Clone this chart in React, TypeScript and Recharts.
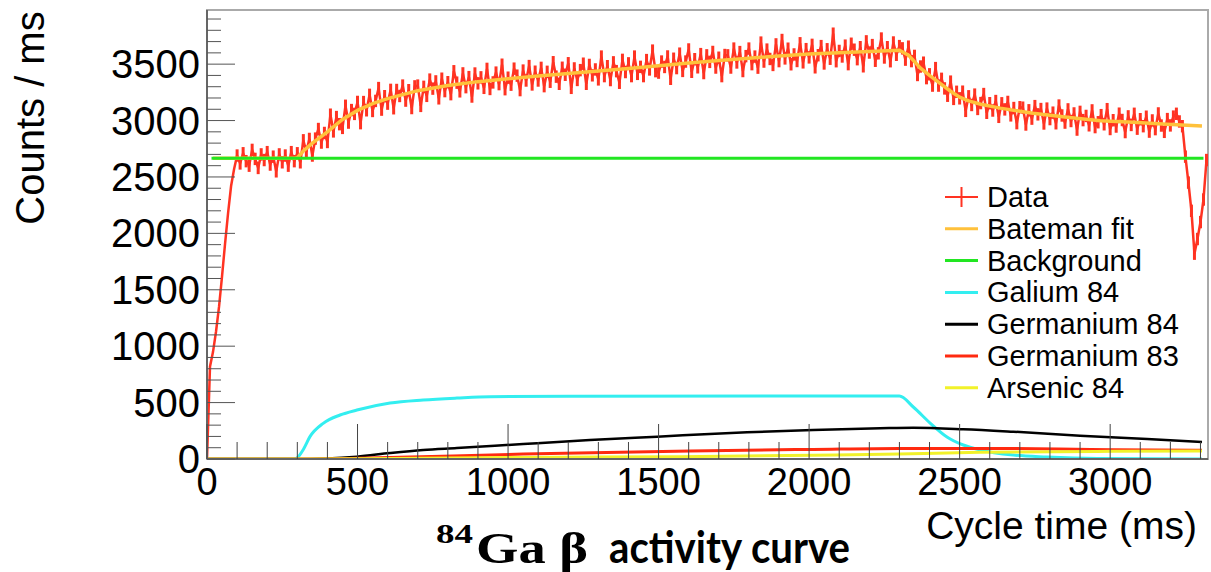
import React from 'react';
import { LineChart, Line, XAxis, YAxis, ReferenceArea, ErrorBar } from 'recharts';

// Data histogram, 10 ms bins starting at 0 ms
const BIN_MS = 10;
const DATA_ERR = 55; // half-length of the error bars
const countsBeforeBeam = [
  0, 820, 950, 1130, 1350, 1620, 1910, 2180, 2420, 2570,
  2690, 2620, 2710, 2640, 2600, 2740, 2660, 2580, 2700, 2650,
  2720, 2610, 2680, 2550, 2700, 2630, 2690, 2600, 2720, 2640,
];
const countsBeamOn = [
  2710, 2630, 2825, 2723, 2837, 2690, 2840, 2925, 2805, 2890,
  2810, 3052, 2904, 3031, 2968, 2935, 3131, 2982, 3093, 3059,
  3165, 2977, 3164, 3091, 3228, 3085, 3174, 3288, 3097, 3216,
  3150, 3272, 3109, 3271, 3218, 3310, 3177, 3269, 3111, 3303,
  3310, 3130, 3299, 3219, 3363, 3283, 3347, 3197, 3371, 3261,
  3340, 3234, 3437, 3336, 3259, 3418, 3296, 3385, 3213, 3417,
  3330, 3383, 3290, 3458, 3280, 3338, 3425, 3323, 3495, 3278,
  3380, 3318, 3460, 3398, 3270, 3443, 3355, 3483, 3320, 3433,
  3355, 3467, 3305, 3432, 3344, 3517, 3389, 3326, 3468, 3406,
  3508, 3290, 3462, 3360, 3447, 3504, 3326, 3493, 3401, 3453,
  3365, 3567, 3394, 3482, 3359, 3516, 3438, 3335, 3538, 3430,
  3507, 3394, 3567, 3414, 3476, 3394, 3536, 3453, 3620, 3438,
  3425, 3523, 3475, 3568, 3370, 3548, 3465, 3593, 3440, 3523,
  3630, 3432, 3544, 3472, 3589, 3421, 3578, 3520, 3608, 3470,
  3557, 3394, 3581, 3578, 3470, 3638, 3515, 3607, 3439, 3571,
  3638, 3500, 3567, 3469, 3691, 3523, 3629, 3546, 3493, 3675,
  3527, 3714, 3551, 3637, 3499, 3586, 3528, 3685, 3516, 3633,
  3560, 3671, 3472, 3579, 3660, 3506, 3632, 3548, 3770, 3526,
  3617, 3568, 3664, 3500, 3681, 3628, 3544, 3650, 3481, 3702,
  3603, 3669, 3530, 3596, 3727, 3559, 3650, 3526, 3692, 3583,
];
const countsAfterBeam = [
  3660, 3640, 3540, 3655, 3527, 3573, 3404, 3479, 3513, 3376,
  3410, 3310, 3465, 3310, 3370, 3285, 3220, 3345, 3192, 3255,
  3197, 3256, 3086, 3215, 3138, 3230, 3103, 3155, 3235, 3069,
  3154, 3089, 3173, 3033, 3153, 3099, 3165, 3046, 3111, 2977,
  3118, 3114, 2965, 3091, 3017, 3128, 3055, 3102, 2974, 3106,
  3013, 3070, 2976, 3133, 3045, 2982, 3099, 2996, 3063, 2920,
  3077, 3004, 3041, 2958, 3090, 2942, 2985, 3048, 2967, 3101,
  2925, 3003, 2947, 3061, 3005, 2898, 3037, 2961, 3060, 2928,
  3012, 2950, 3034, 2902, 3001, 2924, 3063, 2956, 2900, 3013,
  2957, 3035, 3060, 2992, 2950, 2680, 2450, 2200, 1820, 1950,
  2100, 2300, 2650,
];

// Bateman fit
const fitMs = [20, 290, 300, 320, 350, 400, 450, 500, 550, 600, 700, 800, 900, 1000, 1100, 1200, 1300, 1400, 1500, 1600, 1700, 1800, 1900, 2000, 2100, 2200, 2300, 2330, 2370, 2400, 2435, 2470, 2500, 2530, 2570, 2635, 2700, 2744, 2857, 2967, 3076, 3189, 3305];
const fitCounts = [2665, 2665, 2670, 2730, 2800, 2900, 3010, 3090, 3150, 3195, 3265, 3310, 3345, 3370, 3395, 3418, 3440, 3462, 3485, 3510, 3532, 3553, 3572, 3590, 3602, 3613, 3624, 3580, 3464, 3400, 3330, 3260, 3207, 3175, 3145, 3110, 3083, 3065, 3030, 2998, 2985, 2968, 2952];

const bgMs = [15, 3310];
const bgCounts = [2665, 2665];

const gaMs = [0, 290, 300, 320, 342, 386, 442, 498, 608, 718, 830, 940, 1200, 2300, 2346, 2402, 2458, 2512, 2568, 2678, 2790, 2957, 3305];
const gaCounts = [0, 0, 12, 85, 198, 316, 390, 434, 496, 523, 540, 552, 556, 558, 461, 319, 195, 124, 80, 35, 18, 5, 1];

const ge84Ms = [0, 290, 400, 498, 608, 718, 830, 1050, 1272, 1495, 1794, 2013, 2236, 2346, 2512, 2678, 2900, 3123, 3305];
const ge84Counts = [0, 0, 5, 21, 53, 80, 97, 133, 168, 198, 237, 257, 272, 277, 264, 242, 207, 177, 150];

const ge83Ms = [0, 290, 500, 1050, 1605, 2013, 2300, 2568, 3011, 3305];
const ge83Counts = [0, 0, 7, 44, 71, 85, 94, 94, 82, 78];

const as84Ms = [0, 290, 500, 1050, 1571, 2013, 2300, 2568, 3011, 3305];
const as84Counts = [0, 0, 2, 14, 21, 33, 44, 59, 68, 71];

const xTicks = Array.from({ length: 34 }, (_, i) => i * 100);
const yTicks = Array.from({ length: 40 }, (_, i) => i * 100);

const LEGEND = [
  { name: 'Data', color: '#ff3322', cross: true },
  { name: 'Bateman fit', color: '#ffc13b' },
  { name: 'Background', color: '#22e622' },
  { name: 'Galium 84', color: '#33eef0' },
  { name: 'Germanium 84', color: '#000000' },
  { name: 'Germanium 83', color: '#ff2a10' },
  { name: 'Arsenic 84', color: '#f2f22a' },
];

const pts = (ms: number[], v: number[]) => ms.map((m, i) => ({ ms: m, v: v[i] }));
const histData = [...countsBeforeBeam, ...countsBeamOn, ...countsAfterBeam].map((v, i) => ({
  ms: i * BIN_MS,
  v,
  err: i < 10 ? 0 : DATA_ERR,
}));

const SANS = '"Liberation Sans", Arial, Helvetica, sans-serif';

const XTick = (props: any) => {
  const { x, y, payload } = props;
  const major = payload.value % 500 === 0;
  return (
    <g>
      <line x1={x} y1={y} x2={x} y2={y - (major ? 35 : 17)} stroke="#444" strokeWidth={1} />
      {major && (
        <text x={x} y={y + 36} textAnchor="middle" fontSize={38} fontFamily={SANS} fill="#000">
          {payload.value}
        </text>
      )}
    </g>
  );
};

const YTick = (props: any) => {
  const { x, y, payload } = props;
  const major = payload.value % 500 === 0;
  return (
    <g>
      <line x1={x} y1={y} x2={x + (major ? 28 : 14)} y2={y} stroke="#555" strokeWidth={1} />
      {major && (
        <text x={x - 7} y={y + 14} textAnchor="end" fontSize={40} fontFamily={SANS} fill="#000">
          {payload.value}
        </text>
      )}
    </g>
  );
};

export default function App() {
  return (
    <div style={{ position: 'absolute', left: 0, top: 0, width: 1211, height: 572, background: '#fff' }}>
      <LineChart width={1211} height={572} margin={{ top: 10, right: 3, bottom: 0, left: 0 }}>
        <XAxis
          dataKey="ms"
          type="number"
          domain={[0, 3325]}
          allowDataOverflow
          ticks={xTicks}
          interval={0}
          tick={<XTick />}
          tickSize={0}
          tickMargin={0}
          height={113}
          axisLine={{ stroke: '#666', strokeWidth: 2 }}
          tickLine={false}
        />
        <YAxis
          type="number"
          domain={[0, 3980]}
          allowDataOverflow
          ticks={yTicks}
          interval={0}
          tick={<YTick />}
          tickSize={0}
          tickMargin={0}
          width={207}
          axisLine={{ stroke: '#666', strokeWidth: 2 }}
          tickLine={false}
        />
        <ReferenceArea x1={0} x2={3325} y1={0} y2={3980} fill="none" stroke="#aaa" strokeWidth={2} />
        <Line data={histData} dataKey="v" stroke="#ff3322" strokeWidth={2.5} dot={false} activeDot={false} isAnimationActive={false} type="linear">
          <ErrorBar dataKey="err" direction="y" width={0} stroke="#ff3322" strokeWidth={3} />
        </Line>
        <Line data={pts(fitMs, fitCounts)} dataKey="v" stroke="#ffc13b" strokeWidth={3.5} dot={false} activeDot={false} isAnimationActive={false} type="linear" />
        <Line data={pts(bgMs, bgCounts)} dataKey="v" stroke="#22e622" strokeWidth={3} dot={false} activeDot={false} isAnimationActive={false} type="linear" />
        <Line data={pts(gaMs, gaCounts)} dataKey="v" stroke="#33eef0" strokeWidth={3} dot={false} activeDot={false} isAnimationActive={false} type="monotone" />
        <Line data={pts(ge84Ms, ge84Counts)} dataKey="v" stroke="#000" strokeWidth={2.5} dot={false} activeDot={false} isAnimationActive={false} type="monotone" />
        <Line data={pts(ge83Ms, ge83Counts)} dataKey="v" stroke="#ff2a10" strokeWidth={3} dot={false} activeDot={false} isAnimationActive={false} type="monotone" />
        <Line data={pts(as84Ms, as84Counts)} dataKey="v" stroke="#f2f22a" strokeWidth={3} dot={false} activeDot={false} isAnimationActive={false} type="monotone" />
      </LineChart>

      <svg width={1211} height={572} style={{ position: 'absolute', left: 0, top: 0, pointerEvents: 'none' }}>
        <text transform="translate(44,118) rotate(-90)" textAnchor="middle" fontSize={40} fontFamily={SANS} fill="#000">
          Counts / ms
        </text>
        <text x={1197} y={539} textAnchor="end" fontSize={39} fontFamily={SANS} fill="#000">
          Cycle time (ms)
        </text>
        <text x={436} y={543} fontSize={28} fontWeight="bold" fontFamily='"Liberation Serif", "DejaVu Serif", serif' textLength={37} lengthAdjust="spacingAndGlyphs">
          84
        </text>
        <text x={476} y={563} fontSize={44} fontWeight="bold" fontFamily='"Liberation Serif", "DejaVu Serif", serif' textLength={112} lengthAdjust="spacingAndGlyphs">
          Ga β
        </text>
        <text x={609} y={563} fontSize={44} fontWeight="bold" fontFamily='Lato, "Open Sans", sans-serif' textLength={241} lengthAdjust="spacingAndGlyphs">
          activity curve
        </text>
        {LEGEND.map((e, i) => {
          const cy = 197 + i * 31.8;
          return (
            <g key={e.name}>
              <line x1={945} x2={978} y1={cy} y2={cy} stroke={e.color} strokeWidth={e.cross ? 2 : 3} />
              {e.cross && <line x1={961.5} x2={961.5} y1={cy - 10} y2={cy + 10} stroke={e.color} strokeWidth={2} />}
              <text x={987} y={cy + 10} fontSize={29} fontFamily={SANS} fill="#000">
                {e.name}
              </text>
            </g>
          );
        })}
      </svg>
    </div>
  );
}
